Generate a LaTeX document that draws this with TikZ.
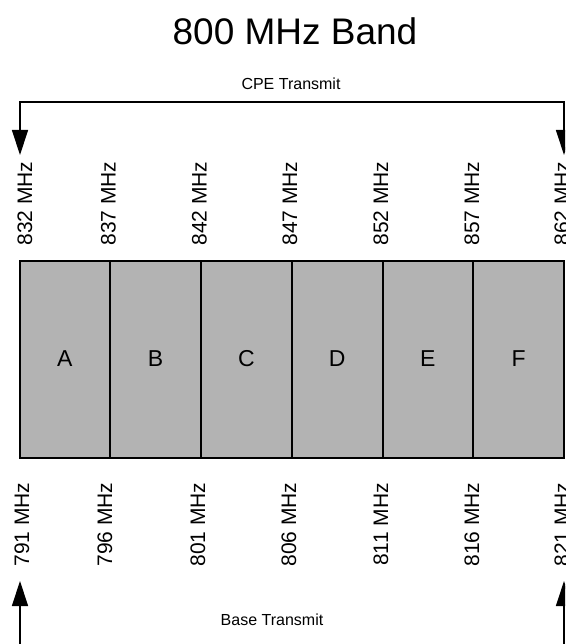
\documentclass[tikz,border=0pt]{standalone}
\usepackage{fontspec}
\setmainfont{Liberation Sans}
\usetikzlibrary{arrows.meta}
\definecolor{cellgray}{RGB}{179,179,179}
\begin{document}
\begin{tikzpicture}[x=1pt,y=-1pt,
  cell/.style={draw=black,line width=2pt,fill=cellgray,minimum width=90.75pt,minimum height=197pt,inner sep=0pt,outer sep=0pt,font=\fontsize{23}{27}\selectfont},
  freq/.style={rotate=90,inner sep=0pt,font=\fontsize{21}{25}\selectfont},
  caption/.style={anchor=base,inner sep=0pt,font=\fontsize{16}{19}\selectfont},
  bracket/.style={line width=1.3pt,line join=miter,{Triangle[width=16pt,length=25pt]}-{Triangle[width=16pt,length=25pt]}},
]
\clip (0,0) rectangle (565,644);
\fill[white] (0,0) rectangle (565,644);

\node[anchor=base,inner sep=0pt,font=\fontsize{37}{44}\selectfont] (title) at (295,45) {800 MHz Band};

% band cells
\foreach \n [count=\i from 0] in {A,B,C,D,E,F}{
  \node[cell] (cell\n) at ({19.5+90.75*(\i+0.5)},359) {\n};
}

% top frequencies
\node[freq] (t832) at (25,203.5) {832 MHz};
\node[freq] (t837) at (108.5,203.5) {837 MHz};
\node[freq] (t842) at (199.5,203.5) {842 MHz};
\node[freq] (t847) at (290,203.5) {847 MHz};
\node[freq] (t852) at (381,203.5) {852 MHz};
\node[freq] (t857) at (472,203.5) {857 MHz};
\node[freq] (t862) at (562,203.5) {862 MHz};

% bottom frequencies
\node[freq] (b791) at (22,524.5) {791 MHz};
\node[freq] (b796) at (105,524.5) {796 MHz};
\node[freq] (b801) at (198,524.5) {801 MHz};
\node[freq] (b806) at (289,524.5) {806 MHz};
\node[freq] (b811) at (381,524.5) {811 MHz};
\node[freq] (b816) at (472,524.5) {816 MHz};
\node[freq] (b821) at (562,524.5) {821 MHz};

% CPE transmit bracket
\node[caption] (cpe) at (291,90) {CPE Transmit};
\coordinate (cpeTL) at (20,102);
\coordinate (cpeTR) at (564,102);
\coordinate (cpeL) at (20,155);
\coordinate (cpeR) at (564,155);
\draw[bracket] (cpeL) -- (cpeTL) -- (cpeTR) -- (cpeR);

% Base transmit bracket
\node[caption] (base) at (272,625) {Base Transmit};
\coordinate (baseBL) at (20,670);
\coordinate (baseBR) at (564,670);
\coordinate (baseL) at (20,581);
\coordinate (baseR) at (564,581);
\draw[bracket] (baseL) -- (baseBL) -- (baseBR) -- (baseR);
\end{tikzpicture}
\end{document}
